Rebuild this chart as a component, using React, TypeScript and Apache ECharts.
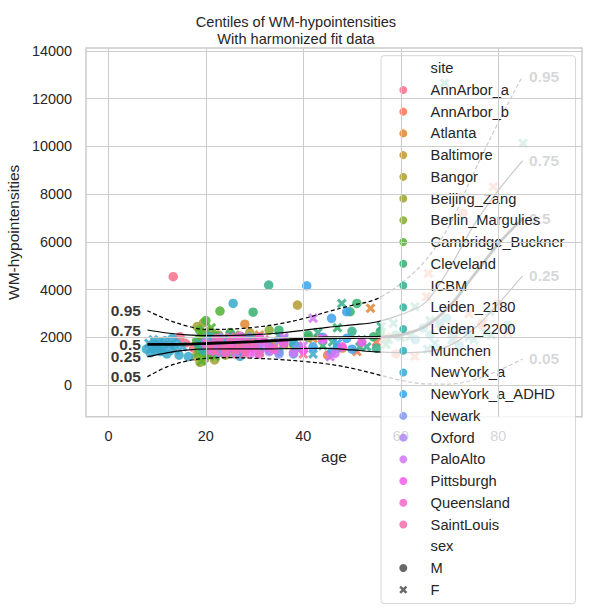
import { useEffect, useRef } from "react";
import * as echarts from "echarts";

const FONT = "'Liberation Sans', Arial, Helvetica, sans-serif";
const INK = "#262626";

// ---- data -----------------------------------------------------------------
// Each point: [age, WM-hypointensities, sex (0 = M, 1 = F)]
const annArborA = [[13.3,4540,0],[14.7,2020,0],[15.8,1750,0],[17.5,1550,0],[19.5,1850,1],[21,1400,0],[22.5,2000,0],[24,1650,1],[26,1300,0],[28,1800,0],[33,1500,0],[40,1300,1]];
const annArborB = [[20,1600,0],[23,1900,1],[45,1250,0],[51,1400,1],[55,1800,1],[59,1300,0],[62.9,1190,1],[65.3,3700,1],[65.7,4680,1],[68,2500,0],[71,1900,1],[72.8,7200,0],[74,3000,1],[76.6,2515,0],[76.9,2600,1],[79,8310,1],[80,3400,0],[82,2200,1]];
const atlanta = [[22,1600,0],[25,1850,1],[28,2550,0],[31,2100,1],[36,1700,0],[42,1950,1],[48,1550,0],[53.8,3215,1],[57,2000,1]];
const baltimore = [[21,1700,0],[23,1450,1],[25,2000,0],[27,1600,1],[29,1850,0],[31,1350,1],[34,1750,0],[38,1500,1]];
const bangor = [[19.5,1750,0],[20.5,1300,0],[21.5,2050,0],[23,1600,0],[25,1900,0],[27,1400,0],[29,2200,0],[33,1650,0],[38.8,3350,0]];
const beijingZang = [[18.0,1200,0],[18.2,2450,0],[18.5,1700,1],[18.8,950,0],[19.0,2000,0],[19.2,1450,1],[19.5,2600,0],[19.8,1100,0],[20.0,1800,1],[20.3,1350,0],[20.6,2250,0],[21.0,1550,1],[21.4,1900,0],[21.8,1050,0],[22.2,1650,1],[22.6,2100,0],[23.0,1400,0],[23.5,1750,1],[24.0,1250,0],[24.6,2000,0],[25.3,1500,1],[26.0,1800,0]];
const berlinMargulies = [[23,1900,0],[25,1600,0],[26,2100,1],[28,1500,0],[30,1800,0],[33,2300,0],[36,1700,1],[41,2000,0]];
const cambridgeBuckner = [[18.1,1850,0],[18.4,1350,1],[18.7,2300,0],[18.9,1600,0],[19.1,1000,1],[19.4,2150,0],[19.7,1500,1],[20.0,2700,0],[20.2,1250,0],[20.5,1950,1],[20.8,1450,0],[21.1,2400,1],[21.5,1700,0],[21.9,1200,1],[22.3,2050,0],[22.9,3100,0],[23.2,1550,1],[23.8,1850,0],[24.3,1350,1],[25.0,2200,0],[25.8,1600,1],[26.7,1900,0],[27.5,1450,1],[28.5,1750,0],[29.5,2000,1]];
const cleveland = [[24,1700,0],[27,2000,1],[29.7,3050,0],[31,1550,1],[35,2300,0],[38,1800,1],[41,2100,0],[44,1650,1],[47,2400,1],[49.6,3070,0],[51,3420,0],[52,1900,1],[54.4,2020,0],[55.8,2235,0],[57,1700,1],[59,2100,0]];
const icbm = [[19,1600,0],[21,2000,1],[23,1750,0],[25,1450,1],[28,1900,0],[32.9,4190,0],[35,2050,1],[39,1600,0],[43,2200,1],[46,1800,1],[47.9,3420,1],[50,2250,0],[51.6,1605,1],[53,1605,1],[55,1540,0],[56,2450,1],[57.5,1900,1],[58.5,2590,1],[60,2000,1],[61.9,2020,1],[62.9,3280,1],[66,2700,1],[69,12650,1],[71,2300,1],[75,1900,1],[77.6,2170,1],[78.3,3070,1],[78.6,2100,1],[82,2500,0],[85.1,10130,1]];
const leiden2180 = [[20,1650,0],[21,1950,0],[22,1400,1],[23,1800,0],[24,1550,0],[25,2100,1],[26,1700,0],[27,1350,0],[28,1900,1]];
const leiden2200 = [[18.5,1750,1],[19.5,1450,0],[20.5,2050,0],[21.5,1600,1],[22.5,1350,0],[23.5,1900,0],[24.5,1700,1],[26,1500,0],[27.5,2000,0]];
const munchen = [[63,1900,0],[64.6,2390,0],[65.5,1500,1],[66,2100,0],[67,1750,1],[68,2600,0],[69.4,2800,0],[70.5,1900,1],[71,2200,0],[72,1650,0],[73.5,2300,0],[74,2000,1]];
const newYorkA = [[7.8,1500,0],[8.3,1750,1],[8.6,1350,0],[9.0,1600,0],[9.2,1900,1],[9.5,1450,0],[9.8,1700,0],[10.1,1550,1],[10.4,1800,0],[10.7,1400,0],[11.0,1650,0],[11.3,1500,1],[11.6,1850,0],[12.0,1300,0],[12.4,1700,1],[12.8,1550,0],[13.1,1950,0],[13.6,1450,1],[14.0,1750,0],[14.5,1250,0],[15.2,1600,1],[16.4,1190,0],[22,1500,0],[25.6,3420,0],[27,1200,0],[31,1600,1],[35,1400,0],[38,1750,0],[42,1300,1],[47,1550,0]];
const newYorkAADHD = [[21,1500,0],[24,1800,0],[27,1350,1],[30,1700,0],[33,1450,0],[36,1950,1],[38,1300,0],[40.7,4160,0],[42,1600,0],[44,2000,0],[45.8,2795,0],[45.8,1380,0],[47,1750,1],[48.9,3070,0],[48.9,1955,0],[50,1500,0]];
const newark = [[21,1600,0],[23,1350,1],[25,1850,0],[27,1500,1],[29,2000,0],[31,1450,0],[33,1750,1],[35,1300,0],[39,1600,0]];
const oxford = [[20,1800,0],[21.5,1450,1],[23,2000,0],[24.5,1650,0],[26,1350,1],[27.5,1900,0],[29,1550,1],[31,1700,0],[33,1400,0],[35,1850,1]];
const paloAlto = [[22,1700,1],[24,1400,0],[26,1950,1],[28,1550,0],[30,1300,1],[32,1750,0],[34,1450,1],[36,2000,1],[38,1350,0],[40,1650,1],[42,2795,1],[44,1900,0],[45.5,1186,1],[46.5,1325,0]];
const pittsburgh = [[25,1600,0],[27,1850,1],[29,1400,0],[31,2000,0],[33,1550,1],[36,1750,0],[40,1450,0],[44,1950,1],[48,1600,0],[52,1800,0]];
const queensland = [[20,1700,0],[21,1450,1],[22,1950,0],[23,1600,1],[24,1350,0],[25,1800,0],[26,1550,1],[27,2050,0],[28,1400,0],[29,1750,1],[30,1600,0],[31,1300,0],[32,1900,1],[34,1500,0]];
const saintLouis = [[21,1650,0],[22,1400,1],[23,1850,1],[24,1550,0],[25,2000,1],[26,1450,1],[27,1700,0],[28,1300,1],[29,1800,1]];

const siteNames = [
  "AnnArbor_a", "AnnArbor_b", "Atlanta", "Baltimore", "Bangor", "Beijing_Zang",
  "Berlin_Margulies", "Cambridge_Buckner", "Cleveland", "ICBM", "Leiden_2180",
  "Leiden_2200", "Munchen", "NewYork_a", "NewYork_a_ADHD", "Newark", "Oxford",
  "PaloAlto", "Pittsburgh", "Queensland", "SaintLouis",
];
const sitePoints = [
  annArborA, annArborB, atlanta, baltimore, bangor, beijingZang, berlinMargulies,
  cambridgeBuckner, cleveland, icbm, leiden2180, leiden2200, munchen, newYorkA,
  newYorkAADHD, newark, oxford, paloAlto, pittsburgh, queensland, saintLouis,
];
const sexNames = ["M", "F"];

// Fitted centile curves, sampled over age
const centileAges = [8, 12, 16, 20, 25, 30, 35, 40, 45, 50, 55, 60, 65, 70, 75, 80, 85];
const centile05 = [348, 760, 1000, 1120, 1150, 1120, 1070, 990, 880, 700, 450, 200, 50, 40, 220, 600, 1090];
const centile25 = [1186, 1350, 1460, 1509, 1515, 1510, 1520, 1530, 1538, 1470, 1390, 1360, 1390, 1650, 2350, 3400, 4570];
const centile50 = [1705, 1700, 1710, 1740, 1780, 1820, 1870, 1930, 1980, 1990, 2000, 2100, 2450, 3300, 4600, 5900, 6980];
const centile75 = [2305, 2180, 2100, 2066, 2075, 2110, 2180, 2290, 2418, 2520, 2640, 2950, 3450, 4900, 6700, 8150, 9400];
const centile95 = [3114, 2750, 2480, 2330, 2340, 2420, 2560, 2780, 3070, 3340, 3600, 4250, 5200, 6700, 8900, 11000, 12950];
const centileNames = ["0.05", "0.25", "0.5", "0.75", "0.95"];
const centileValues = [centile05, centile25, centile50, centile75, centile95];

const xTicks = [0, 20, 40, 60, 80];
const yTicks = [0, 2000, 4000, 6000, 8000, 10000, 12000, 14000];

// ---- HUSL palette (same maths as seaborn's husl_palette) -------------------
const M3 = [
  [3.2406, -1.5372, -0.4986],
  [-0.9689, 1.8758, 0.0415],
  [0.0557, -0.204, 1.057],
];

function maxChroma(L: number, H: number) {
  const hrad = (H / 360) * 2 * Math.PI;
  const sinH = Math.sin(hrad);
  const cosH = Math.cos(hrad);
  const sub1 = Math.pow(L + 16, 3) / 1560896;
  const sub2 = sub1 > 0.008856 ? sub1 : L / 903.3;
  let result = Infinity;
  for (const [m1, m2, m3] of M3) {
    const top = (0.99915 * m1 + 1.05122 * m2 + 1.1446 * m3) * sub2;
    const rbottom = 0.8633 * m3 - 0.17266 * m2;
    const lbottom = 0.12949 * m3 - 0.38848 * m1;
    const bottom = (rbottom * sinH + lbottom * cosH) * sub2;
    for (const t of [0, 1]) {
      const C = (L * (top - 1.05122 * t)) / (bottom + 0.17266 * sinH * t);
      if (C > 0 && C < result) result = C;
    }
  }
  return result;
}

function huslToHex(h: number, s: number, l: number) {
  const C = (maxChroma(l, h) / 100) * s;
  const hrad = (h / 360) * 2 * Math.PI;
  const U = C * Math.cos(hrad);
  const V = C * Math.sin(hrad);
  const t = (l + 16) / 116;
  const Y = t * t * t > 0.008856 ? t * t * t : (116 * t - 16) / 903.3;
  const varU = U / (13 * l) + 0.19784;
  const varV = V / (13 * l) + 0.46834;
  const X = -(9 * Y * varU) / ((varU - 4) * varV - varU * varV);
  const Z = (9 * Y - 15 * varV * Y - varV * X) / (3 * varV);
  const channel = (row: number[]) => {
    let c = row[0] * X + row[1] * Y + row[2] * Z;
    c = c <= 0.0031308 ? 12.92 * c : 1.055 * Math.pow(c, 1 / 2.4) - 0.055;
    c = Math.min(1, Math.max(0, c));
    return Math.round(c * 255).toString(16).padStart(2, "0");
  };
  return "#" + M3.map(channel).join("");
}

function huslPalette(n: number) {
  const out: string[] = [];
  for (let i = 0; i < n; i++) {
    const h = ((i / n + 0.01) % 1) * 359;
    out.push(huslToHex(h, 0.9 * 99, 0.65 * 99));
  }
  return out;
}

// Filled "X" marker used for F
const X_MARK =
  "path://M0.22,0 L0.5,0.28 L0.78,0 L1,0.22 L0.72,0.5 L1,0.78 L0.78,1 L0.5,0.72 L0.22,1 L0,0.78 L0.28,0.5 L0,0.22 Z";
const SEX_COLOR = "#4d4d4d";

function buildOption() {
  const palette = huslPalette(siteNames.length);

  const siteSeries = siteNames.map((name, i) => ({
    type: "scatter",
    name,
    z: 2,
    silent: true,
    data: sitePoints[i],
    symbol: (v: number[]) => (v[2] ? X_MARK : "circle"),
    symbolSize: (v: number[]) => (v[2] ? 10 : 9.5),
    itemStyle: { color: palette[i], opacity: 0.85 },
  }));

  const curveSeries = centileNames.map((name, k) => {
    const outer = name === "0.05" || name === "0.95";
    const median = name === "0.5";
    return {
      type: "line",
      name: "centile " + name,
      z: 3,
      silent: true,
      smooth: 0.35,
      symbol: "none",
      data: centileAges.map((a, j) => [a, centileValues[k][j]]),
      lineStyle: {
        color: "#000000",
        width: median ? 2.8 : 1.2,
        type: outer ? [4, 2.5] : "solid",
      },
    };
  });

  const last = centileAges.length - 1;
  const labelSeries = {
    type: "scatter",
    name: "centile labels",
    z: 3,
    silent: true,
    symbolSize: 1,
    itemStyle: { color: "rgba(0,0,0,0)" },
    label: {
      show: true,
      fontFamily: FONT,
      fontWeight: "bold",
      fontSize: 15.5,
      color: "#000000",
      distance: 6,
    },
    data: centileNames.flatMap((name, k) => [
      {
        value: [centileAges[0], centileValues[k][0]],
        label: { position: "left", formatter: name },
      },
      {
        value: [centileAges[last], centileValues[k][last]],
        label: { position: "right", formatter: name },
      },
    ]),
  };

  const gridSeries = {
    type: "line",
    name: "grid",
    z: 1,
    silent: true,
    data: [],
    markLine: {
      silent: true,
      symbol: ["none", "none"],
      label: { show: false },
      lineStyle: { color: "#cccccc", width: 1, type: "solid" },
      data: [
        ...xTicks.map((v) => ({ xAxis: v })),
        ...yTicks.map((v) => ({ yAxis: v })),
      ],
    },
  };

  const headingSeries = ["site", "sex"].map((name) => ({
    type: "scatter",
    name,
    data: [],
    itemStyle: { color: "rgba(0,0,0,0)" },
  }));
  const sexSeries = sexNames.map((name) => ({
    type: "scatter",
    name,
    data: [],
    itemStyle: { color: SEX_COLOR, opacity: 0.85 },
  }));

  const legendData = [
    { name: "site", icon: "none" },
    ...siteNames.map((n) => ({ name: n, icon: "circle" })),
    { name: "sex", icon: "none" },
    { name: "M", icon: "circle" },
    { name: "F", icon: X_MARK },
  ];

  return {
    animation: false,
    backgroundColor: "#ffffff",
    title: {
      text: "Centiles of WM-hypointensities\nWith harmonized fit data",
      left: "center",
      top: 8,
      textStyle: {
        fontFamily: FONT,
        fontSize: 14.6,
        fontWeight: "normal",
        color: INK,
        lineHeight: 17,
      },
    },
    grid: {
      left: 86,
      right: 10,
      top: 48,
      bottom: 195.3,
      outerBoundsMode: "none",
      containLabel: false,
      show: true,
      borderColor: "#cccccc",
      borderWidth: 1.5,
      backgroundColor: "rgba(0,0,0,0)",
    },
    xAxis: {
      type: "value",
      min: -4.6,
      max: 97.2,
      name: "age",
      nameLocation: "middle",
      nameGap: 32,
      nameTextStyle: { fontFamily: FONT, fontSize: 15.5, color: INK },
      axisLine: { show: false },
      axisTick: { show: false },
      splitLine: { show: false },
      axisLabel: {
        customValues: xTicks,
        formatter: (v: number) => String(v),
        fontFamily: FONT,
        fontSize: 14.4,
        color: INK,
        margin: 12,
      },
    },
    yAxis: {
      type: "value",
      min: -1329,
      max: 14126,
      name: "WM-hypointensities",
      nameLocation: "middle",
      nameGap: 54,
      nameTextStyle: { fontFamily: FONT, fontSize: 15.5, color: INK },
      axisLine: { show: false },
      axisTick: { show: false },
      splitLine: { show: false },
      axisLabel: {
        customValues: yTicks,
        formatter: (v: number) => String(v),
        fontFamily: FONT,
        fontSize: 14.4,
        color: INK,
        margin: 14,
      },
    },
    legend: {
      orient: "vertical",
      left: 381,
      top: 55.7,
      padding: [5, 11, 6.4, 0],
      itemWidth: 44.6,
      itemHeight: 8,
      itemGap: 6.73,
      selectedMode: false,
      backgroundColor: "rgba(255,255,255,0.8)",
      borderColor: "rgba(204,204,204,0.8)",
      borderWidth: 1,
      borderRadius: 3,
      textStyle: { fontFamily: FONT, fontSize: 14.7, color: INK, lineHeight: 14 },
      data: legendData,
    },
    series: [
      gridSeries,
      ...siteSeries,
      ...curveSeries,
      labelSeries,
      ...headingSeries,
      ...sexSeries,
    ],
  };
}

export default function App() {
  const ref = useRef<HTMLDivElement>(null);
  useEffect(() => {
    if (!ref.current) return;
    const chart = echarts.init(ref.current, null, { renderer: "svg" });
    chart.setOption(buildOption() as any);
    return () => chart.dispose();
  }, []);
  return (
    <div
      ref={ref}
      style={{ position: "absolute", left: 0, top: 0, width: 592, height: 612 }}
    />
  );
}
